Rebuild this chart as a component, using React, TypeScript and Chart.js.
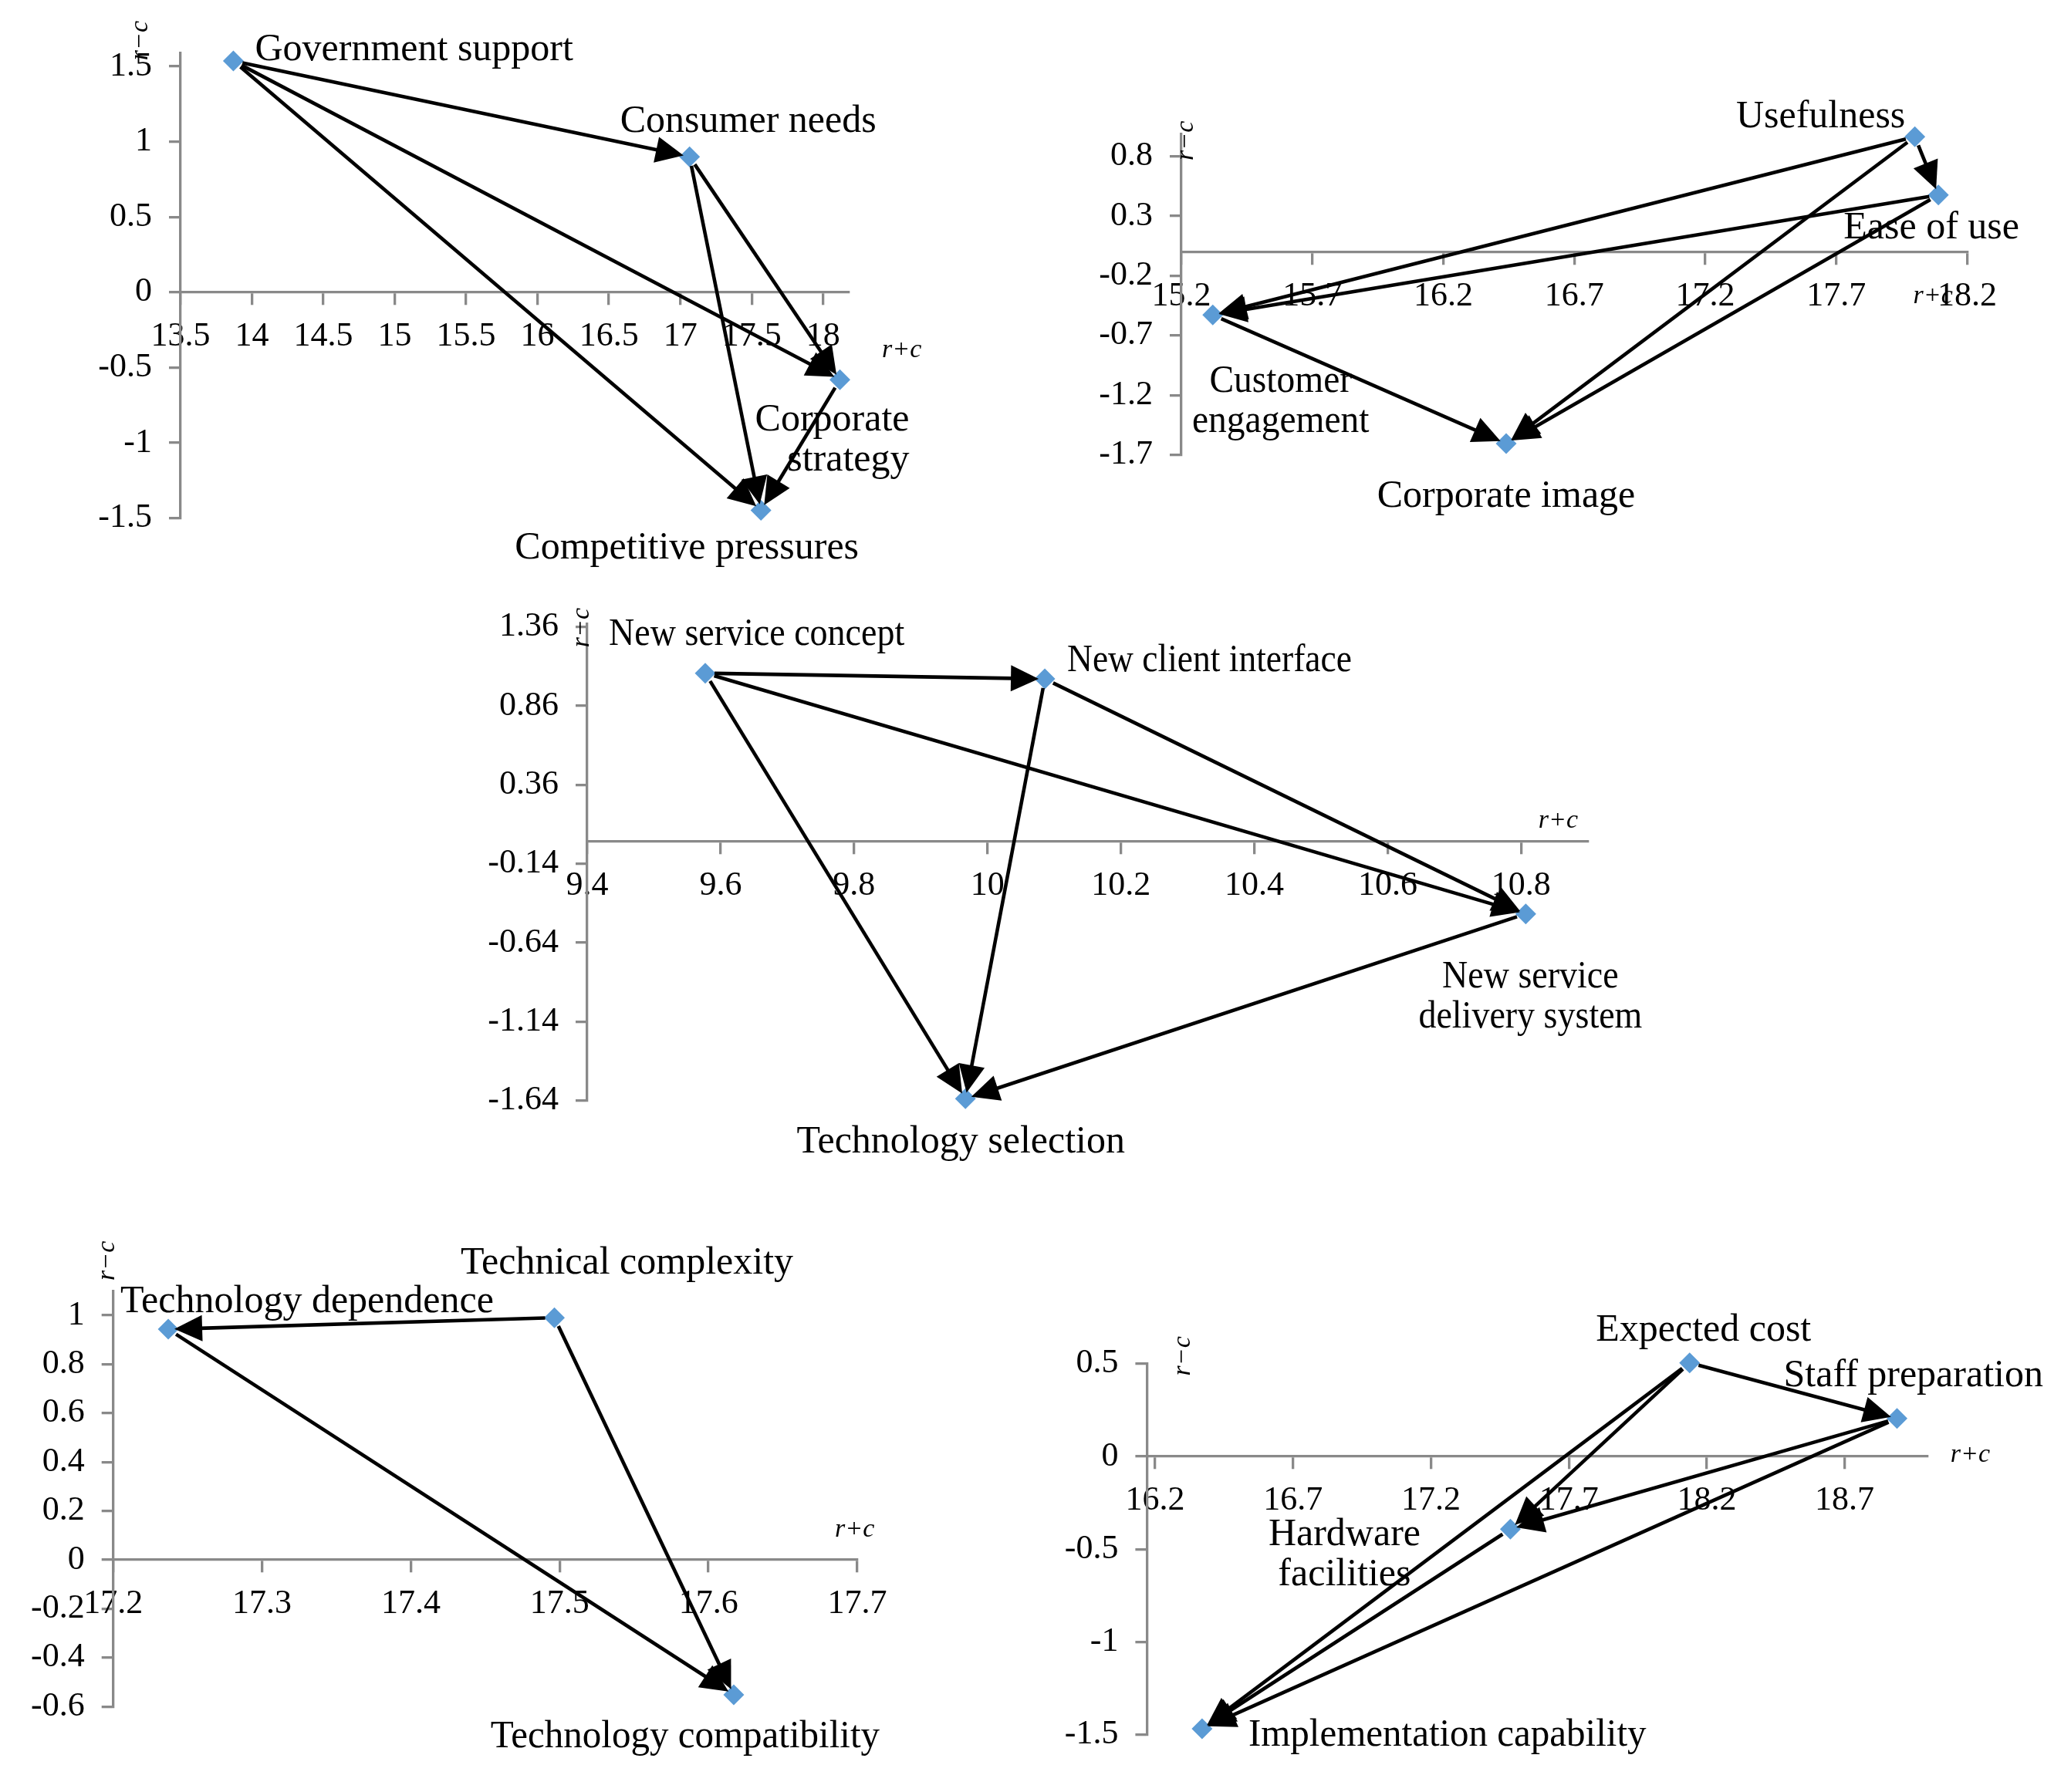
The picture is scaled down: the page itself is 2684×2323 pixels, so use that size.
import React, { useEffect, useRef } from "react";
import { Chart, registerables } from "chart.js";

Chart.register(...registerables);

const FONT = '"Liberation Serif", "Times New Roman", serif';
const AXIS_GRAY = "#898989";
const MARKER_BLUE = "#5B9BD5";

// ---------- Panel 1 ----------
const p1Names = ["Government support", "Consumer needs", "Corporate strategy", "Competitive pressures"];
const p1X = [13.87, 17.065, 18.118, 17.565];
const p1Y = [1.536, 0.9, -0.581, -1.448];
const p1Links = [[0, 1], [0, 2], [0, 3], [1, 2], [1, 3], [2, 3]];
const p1XTicks = [13.5, 14, 14.5, 15, 15.5, 16, 16.5, 17, 17.5, 18];
const p1YTicks = [-1.5, -1, -0.5, 0, 0.5, 1, 1.5];

// ---------- Panel 2 ----------
const p2Names = ["Usefulness", "Ease of use", "Customer engagement", "Corporate image"];
const p2X = [18.0, 18.09, 15.32, 16.44];
const p2Y = [0.964, 0.477, -0.528, -1.605];
const p2Links = [[0, 1], [0, 2], [0, 3], [1, 2], [1, 3], [2, 3]];
const p2XTicks = [15.2, 15.7, 16.2, 16.7, 17.2, 17.7, 18.2];
const p2YTicks = [-1.7, -1.2, -0.7, -0.2, 0.3, 0.8];

// ---------- Panel 3 ----------
const p3Names = ["New service concept", "New client interface", "New service delivery system", "Technology selection"];
const p3X = [9.577, 10.086, 10.807, 9.967];
const p3Y = [1.067, 1.031, -0.457, -1.628];
const p3Links = [[0, 1], [0, 2], [0, 3], [1, 2], [1, 3], [2, 3]];
const p3XTicks = [9.4, 9.6, 9.8, 10, 10.2, 10.4, 10.6, 10.8];
const p3YTicks = [-1.64, -1.14, -0.64, -0.14, 0.36, 0.86, 1.36];

// ---------- Panel 4 ----------
const p4Names = ["Technology dependence", "Technical complexity", "Technology compatibility"];
const p4X = [17.237, 17.4965, 17.617];
const p4Y = [0.943, 0.99, -0.552];
const p4Links = [[1, 0], [1, 2], [0, 2]];
const p4XTicks = [17.2, 17.3, 17.4, 17.5, 17.6, 17.7];
const p4YTicks = [-0.6, -0.4, -0.2, 0, 0.2, 0.4, 0.6, 0.8, 1];

// ---------- Panel 5 ----------
const p5Names = ["Expected cost", "Staff preparation", "Hardware facilities", "Implementation capability"];
const p5X = [18.138, 18.89, 17.488, 16.37];
const p5Y = [0.505, 0.205, -0.392, -1.469];
const p5Links = [[0, 1], [0, 2], [0, 3], [1, 2], [1, 3], [2, 3]];
const p5XTicks = [16.2, 16.7, 17.2, 17.7, 18.2, 18.7];
const p5YTicks = [-1.5, -1, -0.5, 0, 0.5];

type LabelPos = { align: CanvasTextAlign; dx: number; dy: number; split?: number; squeeze?: number };

const PANELS = [
  {
    names: p1Names, xs: p1X, ys: p1Y, links: p1Links, xTicks: p1XTicks, yTicks: p1YTicks,
    xMin: 13.5, xMax: 18.18, yMin: -1.5, yMax: 1.59,
    canvas: { left: 0, top: 0, width: 1260, height: 760 },
    area: { left: 234, top: 68.5, right: 1100, bottom: 671.7 },
    labels: [
      { align: "left", dx: 28, dy: -1 },
      { align: "center", dx: 76, dy: -32 },
      { align: "right", dx: 90, dy: 66, split: 1 },
      { align: "center", dx: -96, dy: 62 },
    ] as LabelPos[],
    rc: { dx: -52, dy: -16 }, rpc: { dx: 43, dy: 84 },
  },
  {
    names: p2Names, xs: p2X, ys: p2Y, links: p2Links, xTicks: p2XTicks, yTicks: p2YTicks,
    xMin: 15.2, xMax: 18.2, yMin: -1.7, yMax: 0.99,
    canvas: { left: 1300, top: 60, width: 1384, height: 640 },
    area: { left: 1531, top: 173.3, right: 2549.5, bottom: 589.7 },
    labels: [
      { align: "center", dx: -122, dy: -12 },
      { align: "center", dx: -9, dy: 56 },
      { align: "center", dx: 88, dy: 100, split: 1, squeeze: 0.95 },
      { align: "center", dx: 0, dy: 82 },
    ] as LabelPos[],
    rc: { dx: 6, dy: 9 }, rpc: { dx: -70, dy: 66 },
  },
  {
    names: p3Names, xs: p3X, ys: p3Y, links: p3Links, xTicks: p3XTicks, yTicks: p3YTicks,
    xMin: 9.4, xMax: 10.9, yMin: -1.64, yMax: 1.38,
    canvas: { left: 560, top: 740, width: 1700, height: 800 },
    area: { left: 761, top: 808.6, right: 2057.8, bottom: 1426.8 },
    labels: [
      { align: "left", dx: -125, dy: -37, squeeze: 0.92 },
      { align: "left", dx: 29, dy: -10, squeeze: 0.91 },
      { align: "center", dx: 6, dy: 95, split: 2, squeeze: 0.92 },
      { align: "center", dx: -6, dy: 70 },
    ] as LabelPos[],
    rc: { dx: -7, dy: 5 }, rpc: { dx: -64, dy: -18 },
  },
  {
    names: p4Names, xs: p4X, ys: p4Y, links: p4Links, xTicks: p4XTicks, yTicks: p4YTicks,
    xMin: 17.2, xMax: 17.7, yMin: -0.6, yMax: 1.1,
    canvas: { left: 0, top: 1580, width: 1250, height: 743 },
    area: { left: 146.7, top: 1673.3, right: 1111, bottom: 2212.2 },
    labels: [
      { align: "left", dx: -62, dy: -22 },
      { align: "center", dx: 94, dy: -57 },
      { align: "center", dx: -63, dy: 68, squeeze: 0.98 },
    ] as LabelPos[],
    rc: { dx: -8, dy: -39 }, rpc: { dx: -29, dy: -30 },
  },
  {
    names: p5Names, xs: p5X, ys: p5Y, links: p5Links, xTicks: p5XTicks, yTicks: p5YTicks,
    xMin: 16.17, xMax: 19.0, yMin: -1.5, yMax: 0.5,
    canvas: { left: 1300, top: 1650, width: 1384, height: 673 },
    area: { left: 1486.4, top: 1767.9, right: 2497.8, bottom: 2248.5 },
    labels: [
      { align: "center", dx: 18, dy: -29 },
      { align: "left", dx: -147, dy: -42 },
      { align: "center", dx: -215, dy: 21, split: 1 },
      { align: "left", dx: 60, dy: 22, squeeze: 0.98 },
    ] as LabelPos[],
    rc: { dx: 47, dy: -10 }, rpc: { dx: 30, dy: 7 },
  },
];

const Y_W = 130;
const LINE_GAP = 52;
const START_OFF = 12;
const TIP_OFF = 8;
const HEAD_LEN = 36;
const HEAD_HW = 17;

function drawArrow(ctx: CanvasRenderingContext2D, x1: number, y1: number, x2: number, y2: number) {
  const dx = x2 - x1, dy = y2 - y1;
  const len = Math.hypot(dx, dy);
  const ux = dx / len, uy = dy / len;
  const sx = x1 + ux * START_OFF, sy = y1 + uy * START_OFF;
  const tx = x2 - ux * TIP_OFF, ty = y2 - uy * TIP_OFF;
  const bx = tx - ux * HEAD_LEN, by = ty - uy * HEAD_LEN;
  ctx.beginPath();
  ctx.moveTo(sx, sy);
  ctx.lineTo(bx + ux * 3, by + uy * 3);
  ctx.stroke();
  ctx.beginPath();
  ctx.moveTo(tx, ty);
  ctx.lineTo(bx - uy * HEAD_HW, by + ux * HEAD_HW);
  ctx.lineTo(bx + uy * HEAD_HW, by - ux * HEAD_HW);
  ctx.closePath();
  ctx.fill();
}

function makeChart(canvas: HTMLCanvasElement, p: any) {
  const padding = {
    left: p.area.left - p.canvas.left - Y_W,
    top: p.area.top - p.canvas.top,
    right: p.canvas.left + p.canvas.width - p.area.right,
    bottom: p.canvas.top + p.canvas.height - p.area.bottom,
  };
  const points = p.xs.map((x: number, i: number) => ({ x, y: p.ys[i] }));

  const overlay = {
    id: "overlay",
    afterDatasetsDraw(chart: any) {
      const ctx = chart.ctx as CanvasRenderingContext2D;
      const xs = chart.scales.x, ys = chart.scales.y;
      ctx.save();
      ctx.strokeStyle = "#000";
      ctx.fillStyle = "#000";
      ctx.lineWidth = 4.6;
      ctx.lineCap = "butt";
      for (const [a, b] of p.links) {
        drawArrow(
          ctx,
          xs.getPixelForValue(p.xs[a]), ys.getPixelForValue(p.ys[a]),
          xs.getPixelForValue(p.xs[b]), ys.getPixelForValue(p.ys[b])
        );
      }
      ctx.restore();
    },
    afterDraw(chart: any) {
      const ctx = chart.ctx as CanvasRenderingContext2D;
      const xs = chart.scales.x, ys = chart.scales.y;
      const area = chart.chartArea;
      ctx.save();
      ctx.fillStyle = "#000";
      ctx.font = `50px ${FONT}`;
      ctx.textBaseline = "alphabetic";
      p.names.forEach((name: string, i: number) => {
        const lp: LabelPos = p.labels[i];
        const px = xs.getPixelForValue(p.xs[i]);
        const py = ys.getPixelForValue(p.ys[i]);
        const words = name.split(" ");
        const lines = lp.split ? [words.slice(0, lp.split).join(" "), words.slice(lp.split).join(" ")] : [name];
        const sq = lp.squeeze || 1;
        ctx.textAlign = lp.align;
        lines.forEach((ln, k) => {
          ctx.save();
          ctx.translate(px + lp.dx, py + lp.dy + k * LINE_GAP);
          ctx.scale(sq, 1);
          ctx.fillText(ln, 0, 0);
          ctx.restore();
        });
      });
      // axis titles
      ctx.font = `italic 34px ${FONT}`;
      ctx.textAlign = "left";
      ctx.textBaseline = "alphabetic";
      ctx.fillText("r+c", area.right + p.rpc.dx, ys.getPixelForValue(0) + p.rpc.dy);
      ctx.save();
      ctx.translate(area.left + p.rc.dx, area.top + p.rc.dy);
      ctx.rotate(-Math.PI / 2);
      ctx.textAlign = "center";
      ctx.textBaseline = "middle";
      ctx.fillText("r\u2212c", 0, 0);
      ctx.restore();
      ctx.restore();
    },
  };

  const gridCfg = {
    display: true,
    drawOnChartArea: false,
    drawTicks: true,
    tickLength: 15,
    tickWidth: 3.3,
    tickColor: AXIS_GRAY,
    lineWidth: 3.3,
    color: AXIS_GRAY,
  };
  const borderCfg = { display: true, color: AXIS_GRAY, width: 3.3 };
  const tickFont = { family: FONT, size: 44 };

  return new Chart(canvas, {
    type: "scatter",
    data: {
      datasets: [
        {
          data: points,
          pointStyle: "rectRot",
          pointRadius: 13.5,
          pointHoverRadius: 13.5,
          backgroundColor: MARKER_BLUE,
          borderColor: MARKER_BLUE,
          borderWidth: 0,
          clip: false,
        } as any,
      ],
    },
    options: {
      animation: false,
      responsive: false,
      maintainAspectRatio: false,
      devicePixelRatio: 1,
      events: [],
      layout: { padding, autoPadding: false } as any,
      plugins: { legend: { display: false }, tooltip: { enabled: false } },
      scales: {
        x: {
          type: "linear",
          position: { y: 0 } as any,
          min: p.xMin,
          max: p.xMax,
          bounds: "data",
          afterBuildTicks: (s: any) => { s.ticks = p.xTicks.map((v: number) => ({ value: v })); },
          afterFit: (s: any) => { s.paddingLeft = 0; s.paddingRight = 0; },
          ticks: {
            autoSkip: false, maxRotation: 0, minRotation: 0, padding: 16,
            font: tickFont, color: "#000",
            callback: (v: any) => String(v),
          },
          grid: gridCfg,
          border: borderCfg,
        } as any,
        y: {
          type: "linear",
          position: "left",
          min: p.yMin,
          max: p.yMax,
          bounds: "data",
          afterBuildTicks: (s: any) => { s.ticks = p.yTicks.map((v: number) => ({ value: v })); },
          afterFit: (s: any) => { s.width = Y_W; s.paddingTop = 0; s.paddingBottom = 0; },
          ticks: {
            autoSkip: false, padding: 22,
            font: tickFont, color: "#000",
            callback: (v: any) => String(v),
          },
          grid: gridCfg,
          border: borderCfg,
        } as any,
      },
    },
    plugins: [overlay as any],
  });
}

export default function App() {
  const refs = useRef<(HTMLCanvasElement | null)[]>([]);
  useEffect(() => {
    const charts = PANELS.map((p, i) => makeChart(refs.current[i] as HTMLCanvasElement, p));
    return () => charts.forEach((c) => c.destroy());
  }, []);
  return (
    <div style={{ position: "absolute", left: 0, top: 0, width: 2684, height: 2323, background: "#fff", overflow: "hidden" }}>
      {PANELS.map((p, i) => (
        <canvas
          key={i}
          ref={(el) => { refs.current[i] = el; }}
          width={p.canvas.width}
          height={p.canvas.height}
          style={{ position: "absolute", left: p.canvas.left, top: p.canvas.top, width: p.canvas.width, height: p.canvas.height }}
        />
      ))}
    </div>
  );
}
